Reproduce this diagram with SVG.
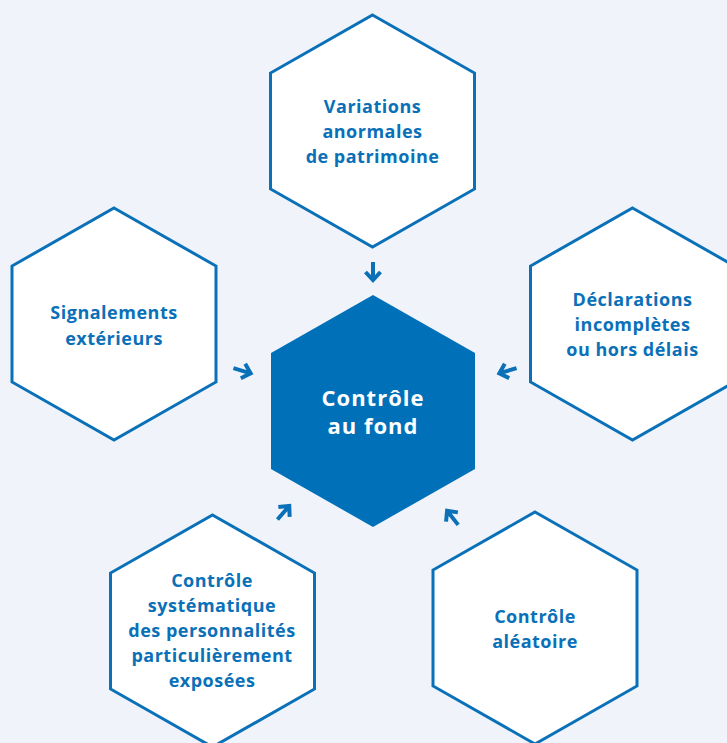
<svg xmlns="http://www.w3.org/2000/svg" width="727" height="743" viewBox="0 0 727 743">
<style>
.hex{fill:#ffffff;stroke:#0a70b8;stroke-width:3}
.hexc{fill:#0070b9;stroke:none}
.t{font-family:"Open Sans","Liberation Sans",sans-serif;font-weight:700;font-size:18px;letter-spacing:0.5px;fill:#0a70b8;text-anchor:middle}
.tc{font-family:"Open Sans","Liberation Sans",sans-serif;font-weight:700;font-size:22px;letter-spacing:1px;fill:#ffffff;text-anchor:middle}
.arr{fill:none;stroke:#0a70b8;stroke-width:4;stroke-linejoin:miter;stroke-linecap:butt}
</style>
<defs>
<polygon id="hexshape" points="0,-116 102,-58 102,58 0,116 -102,58 -102,-58"/>
<path id="arrow" d="M-10,0 H8 M0,-7.5 L8,0 L0,7.5"/>
</defs>
<rect x="0" y="0" width="727" height="743" fill="#f0f4fa"/>
<g id="node-top">
<use href="#hexshape" class="hex" transform="translate(372.5,131)"/>
<text class="t" x="372.5" y="113">Variations</text>
<text class="t" x="372.5" y="138">anormales</text>
<text class="t" x="372.5" y="163">de patrimoine</text>
</g>
<g id="node-left">
<use href="#hexshape" class="hex" transform="translate(114,324)"/>
<text class="t" x="114" y="319">Signalements</text>
<text class="t" x="114" y="345">extérieurs</text>
</g>
<g id="node-right">
<use href="#hexshape" class="hex" transform="translate(632.5,324)"/>
<text class="t" x="632.5" y="306">Déclarations</text>
<text class="t" x="632.5" y="331">incomplètes</text>
<text class="t" x="632.5" y="356">ou hors délais</text>
</g>
<g id="node-bottom-left">
<use href="#hexshape" class="hex" transform="translate(212.5,631)"/>
<text class="t" x="212" y="587">Contrôle</text>
<text class="t" x="212" y="612">systématique</text>
<text class="t" x="212" y="637">des personnalités</text>
<text class="t" x="212" y="662">particulièrement</text>
<text class="t" x="212" y="687">exposées</text>
</g>
<g id="node-bottom-right">
<use href="#hexshape" class="hex" transform="translate(535,628)"/>
<text class="t" x="535" y="623">Contrôle</text>
<text class="t" x="535" y="648">aléatoire</text>
</g>
<g id="node-center">
<use href="#hexshape" class="hexc" transform="translate(373,411)"/>
<text class="tc" x="373" y="406">Contrôle</text>
<text class="tc" x="373" y="434">au fond</text>
</g>
<g id="connectors">
<use href="#arrow" class="arr" transform="translate(373,272) rotate(90)"/>
<use href="#arrow" class="arr" transform="translate(243,371) rotate(17)"/>
<use href="#arrow" class="arr" transform="translate(507,371) rotate(163)"/>
<use href="#arrow" class="arr" transform="translate(284,512) rotate(-49)"/>
<use href="#arrow" class="arr" transform="translate(452,517) rotate(-128)"/>
</g>
</svg>
